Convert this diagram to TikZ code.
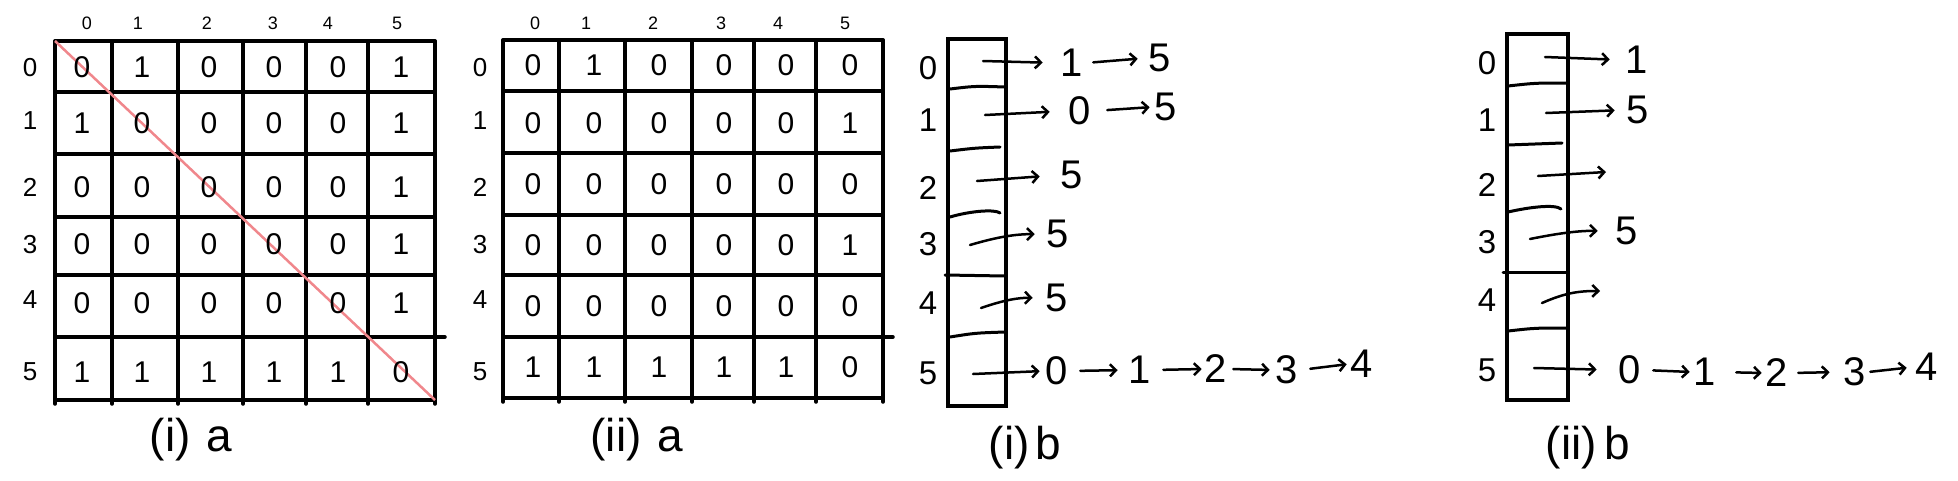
\documentclass[tikz,border=0pt]{standalone}
\usepackage{fontspec}
\setmainfont{Liberation Sans}
\usetikzlibrary{arrows.meta}
\definecolor{diag}{RGB}{240,135,140}
\begin{document}
\begin{tikzpicture}[x=1pt,y=-1pt,
  grid/.style={line width=3.5pt, line cap=round},
  cell/.style={font=\fontsize{30}{30}\selectfont, inner sep=0pt},
  hdr/.style={font=\fontsize{18}{18}\selectfont, inner sep=0pt},
  rlab/.style={font=\fontsize{26}{26}\selectfont, inner sep=0pt},
  blab/.style={font=\fontsize{33}{33}\selectfont, inner sep=0pt},
  captext/.style={font=\fontsize{46}{46}\selectfont, inner sep=0pt},
  chain/.style={font=\fontsize{40}{40}\selectfont, inner sep=2pt},
  arr/.style={-{Straight Barb[length=6pt,width=12pt,line width=2.5pt]}, line width=2.5pt, line cap=round},
  divider/.style={line width=3pt, line cap=round}]
\useasboundingbox (0,0) rectangle (1958,480);

% ---------- Grid (i) a ----------
\foreach \x in {55,112,178,243,306,368,435} \draw[grid] (\x,41) -- (\x,404);
\foreach \y in {41,92,154,217,275,400} \draw[grid] (55,\y) -- (435,\y);
\draw[grid] (55,337) -- (445,337);
\draw[diag, line width=2.5pt] (55,41) -- (435,400);
\foreach \row [count=\r from 0] in {{0,1,0,0,0,1},{1,0,0,0,0,1},{0,0,0,0,0,1},{0,0,0,0,0,1},{0,0,0,0,0,1},{1,1,1,1,1,0}}{
  \foreach \v [count=\c from 0] in \row {
    \pgfmathsetmacro\xx{{82,142,209,274,338,401}[\c]}
    \pgfmathsetmacro\yy{{67,123,187,244,303,372}[\r]}
    \node[cell] (A-\r-\c) at (\xx,\yy) {\v};
  }
}
\foreach \t [count=\i from 0] in {0,1,2,3,4,5}{
  \pgfmathsetmacro\xx{{87,138,207,273,328,397}[\i]}
  \pgfmathsetmacro\yy{{68,121,187,245,300,372}[\i]}
  \node[hdr] (AH-\i) at (\xx,23) {\t};
  \node[rlab] (AR-\i) at (30,\yy) {\t};
}
\node[captext] (capA) at (191,440) {(i)\hspace{16pt}a};

% ---------- Grid (ii) a ----------
\foreach \x in {503,559,625,692,754,816,883} \draw[grid] (\x,40) -- (\x,402);
\foreach \y in {40,91,153,215,275,398} \draw[grid] (503,\y) -- (883,\y);
\draw[grid] (503,337) -- (893,337);
\foreach \row [count=\r from 0] in {{0,1,0,0,0,0},{0,0,0,0,0,1},{0,0,0,0,0,0},{0,0,0,0,0,1},{0,0,0,0,0,0},{1,1,1,1,1,0}}{
  \foreach \v [count=\c from 0] in \row {
    \pgfmathsetmacro\xx{{533,594,659,724,786,850}[\c]}
    \pgfmathsetmacro\yy{{65,123,184,245,306,367}[\r]}
    \node[cell] (B-\r-\c) at (\xx,\yy) {\v};
  }
}
\foreach \t [count=\i from 0] in {0,1,2,3,4,5}{
  \pgfmathsetmacro\xx{{535,586,653,721,778,845}[\i]}
  \pgfmathsetmacro\yy{{68,121,187,245,300,372}[\i]}
  \node[hdr] (BH-\i) at (\xx,23) {\t};
  \node[rlab] (BR-\i) at (480,\yy) {\t};
}
\node[captext] (capB) at (637,440) {(ii)\hspace{16pt}a};

% ---------- List (i) b ----------
\draw[grid] (948,39) rectangle (1006,406);
\draw[divider] (950,89) .. controls (975,86) .. (1005,87);
\draw[divider] (950,151) .. controls (975,148) .. (1000,147);
\draw[divider] (950,217) .. controls (970,211) and (995,209) .. (1000,213);
\draw[divider] (945,275) -- (1005,276);
\draw[divider] (950,337) .. controls (975,333) .. (1005,332);
\foreach \t [count=\i from 0] in {0,1,2,3,4,5}{
  \pgfmathsetmacro\yy{{68,120,188,244,303,373}[\i]}
  \node[blab] (CR-\i) at (928,\yy) {\t};
}
\coordinate (C0) at (983,61);
\node[chain] (C0a) at (1072,63) {1};
\node[chain] (C0b) at (1160,58) {5};
\draw[arr, shorten >=16pt] (C0) -- (C0a.west);
\draw[arr, shorten <=8pt, shorten >=9pt] (C0a.east) -- (C0b.west);
\coordinate (C1) at (985,115);
\node[chain] (C1a) at (1080,111) {0};
\node[chain] (C1b) at (1166,107) {5};
\draw[arr, shorten >=17pt] (C1) -- (C1a.west);
\draw[arr, shorten <=14pt, shorten >=3pt] (C1a.east) -- (C1b.west);
\coordinate (C2) at (977,181);
\node[chain] (C2a) at (1072,175) {5};
\draw[arr, shorten >=19pt] (C2) -- (C2a.west);
\coordinate (C3) at (970,245);
\node[chain] (C3a) at (1058,234) {5};
\draw[arr, shorten >=10pt] (C3) to[bend left=8] (C3a.west);
\coordinate (C4) at (981,308);
\node[chain] (C4a) at (1057,298) {5};
\draw[arr, shorten >=11pt] (C4) to[bend left=10] (C4a.west);
\coordinate (C5) at (973,374);
\node[chain] (C5a) at (1057,371) {0};
\node[chain] (C5b) at (1140,370) {1};
\node[chain] (C5c) at (1216,369) {2};
\node[chain] (C5d) at (1287,370) {3};
\node[chain] (C5e) at (1362,364) {4};
\draw[arr, shorten >=4pt] (C5) -- (C5a.west);
\draw[arr, shorten <=10pt, shorten >=9pt] (C5a.east) -- (C5b.west);
\draw[arr, shorten <=10pt, shorten >=1pt] (C5b.east) -- (C5c.west);
\draw[arr, shorten <=4pt, shorten >=4pt] (C5c.east) -- (C5d.west);
\draw[arr, shorten <=10pt, shorten >=2pt] (C5d.east) -- (C5e.west);
\node[captext] (capC) at (1025,448) {(i)\hspace{6pt}b};

% ---------- List (ii) b ----------
\draw[grid] (1507,34) rectangle (1568,400);
\draw[divider] (1508,86) .. controls (1535,83) .. (1567,83);
\draw[divider] (1508,145) -- (1562,143);
\draw[divider] (1508,212) .. controls (1530,207) and (1555,204) .. (1561,209);
\draw[divider] (1503,272) -- (1567,272);
\draw[divider] (1508,331) .. controls (1535,328) .. (1567,328);
\foreach \t [count=\i from 0] in {0,1,2,3,4,5}{
  \pgfmathsetmacro\yy{{63,120,185,242,300,370}[\i]}
  \node[blab] (DR-\i) at (1487,\yy) {\t};
}
\coordinate (D0) at (1545,57);
\node[chain] (D0a) at (1637,60) {1};
\draw[arr, shorten >=14pt] (D0) -- (D0a.west);
\coordinate (D1) at (1546,113);
\node[chain] (D1a) at (1638,110) {5};
\draw[arr, shorten >=10pt] (D1) -- (D1a.west);
\coordinate (D2) at (1538,176);
\coordinate (D2e) at (1606,172);
\draw[arr] (D2) -- (D2e);
\coordinate (D3) at (1530,239);
\node[chain] (D3a) at (1627,231) {5};
\draw[arr, shorten >=16pt] (D3) to[bend left=6] (D3a.west);
\coordinate (D4) at (1542,303);
\coordinate (D4e) at (1600,291);
\draw[arr] (D4) to[bend left=12] (D4e);
\coordinate (D5) at (1534,368);
\node[chain] (D5a) at (1630,370) {0};
\node[chain] (D5b) at (1705,372) {1};
\node[chain] (D5c) at (1777,373) {2};
\node[chain] (D5d) at (1855,372) {3};
\node[chain] (D5e) at (1927,367) {4};
\draw[arr, shorten >=20pt] (D5) -- (D5a.west);
\draw[arr, shorten <=10pt, shorten >=2pt] (D5a.east) -- (D5b.west);
\draw[arr, shorten <=18pt, shorten >=2pt] (D5b.east) -- (D5c.west);
\draw[arr, shorten <=8pt, shorten >=12pt] (D5c.east) -- (D5d.west);
\draw[arr, shorten <=2pt, shorten >=7pt] (D5d.east) -- (D5e.west);
\node[captext] (capD) at (1588,448) {(ii)\hspace{8pt}b};
\end{tikzpicture}
\end{document}
